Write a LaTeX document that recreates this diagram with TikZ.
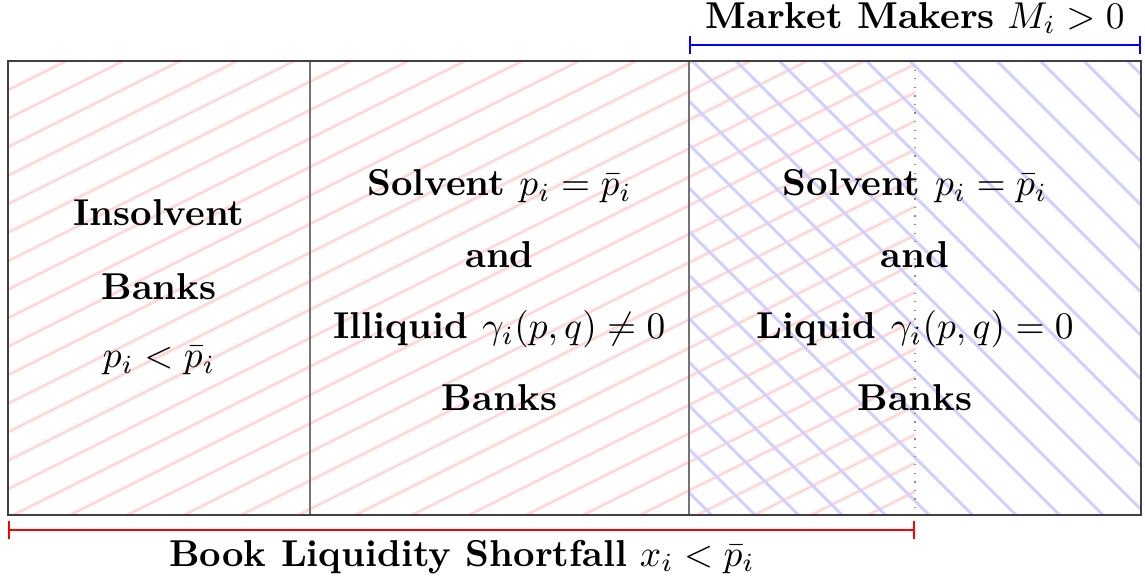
\RequirePackage{fix-cm}
\documentclass[tikz,border=0pt]{standalone}
\usetikzlibrary{arrows.meta}
\begin{document}
\begin{tikzpicture}[x=0.274pt,y=-0.274pt,
  every node/.style={font=\fontsize{10.25pt}{12.3pt}\selectfont},
  frame/.style={draw=black!75,line width=0.55pt},
  divider/.style={draw=black!55,line width=0.35pt},
  dotdiv/.style={draw=black!45,line width=0.35pt,dotted},
  redhatch/.style={draw=red!15,line width=0.8pt},
  bluehatch/.style={draw=blue!18,line width=0.8pt},
  celltext/.style={align=center,font=\fontsize{10.25pt}{12.3pt}\selectfont\bfseries,inner sep=0pt},
  bracket/.style={line width=0.6pt,{Bar[width=5pt]}-{Bar[width=5pt]}},
  label/.style={inner sep=0pt}]
\useasboundingbox (0,0) rectangle (1145,583);
\coordinate (tl) at (8,61);
\coordinate (br) at (1141,515);
% red hatch
\begin{scope}
\clip (8,61) rectangle (915,515);
\foreach \k in {-1,...,32} \draw[redhatch] (8,90+28.5*\k) -- ++(1000,-500);
\end{scope}
% blue hatch
\begin{scope}
\clip (689,61) rectangle (1141,515);
\foreach \k in {-12,...,12} \draw[bluehatch] (689,14+43.5*\k) -- ++(600,600);
\end{scope}
% dividers
\coordinate (d1t) at (310,61); \coordinate (d1b) at (310,515);
\coordinate (d2t) at (689,61); \coordinate (d2b) at (689,515);
\coordinate (d3t) at (915,61); \coordinate (d3b) at (915,515);
\draw[divider] (d1t) -- (d1b);
\draw[divider] (d2t) -- (d2b);
\draw[dotdiv] (d3t) -- (d3b);
\draw[frame] (tl) rectangle (br);
% cell texts
\node[celltext] (c1) at (159,287) {Insolvent\\[8pt]Banks\\[6.4pt]\mdseries$p_i<\bar p_i$};
\node[celltext] (c2) at (499.5,290) {Solvent $p_i=\bar p_i$\\[7.3pt]and\\[7.3pt]Illiquid $\gamma_i(p,q)\neq 0$\\[7.3pt]Banks};
\node[celltext] (c3) at (915,290) {Solvent $p_i=\bar p_i$\\[7.3pt]and\\[7.3pt]Liquid $\gamma_i(p,q)=0$\\[7.3pt]Banks};
% brackets
\coordinate (bl) at (8,530); \coordinate (brr) at (915,530);
\draw[bracket,red] (bl) -- (brr);
\coordinate (ml) at (689,45); \coordinate (mr) at (1141,45);
\draw[bracket,blue] (ml) -- (mr);
\node[label] (blab) at (462,557) {\textbf{Book Liquidity Shortfall} $x_i<\bar p_i$};
\node[label] (mlab) at (915,18) {\textbf{Market Makers} $M_i>0$};
\end{tikzpicture}
\end{document}
